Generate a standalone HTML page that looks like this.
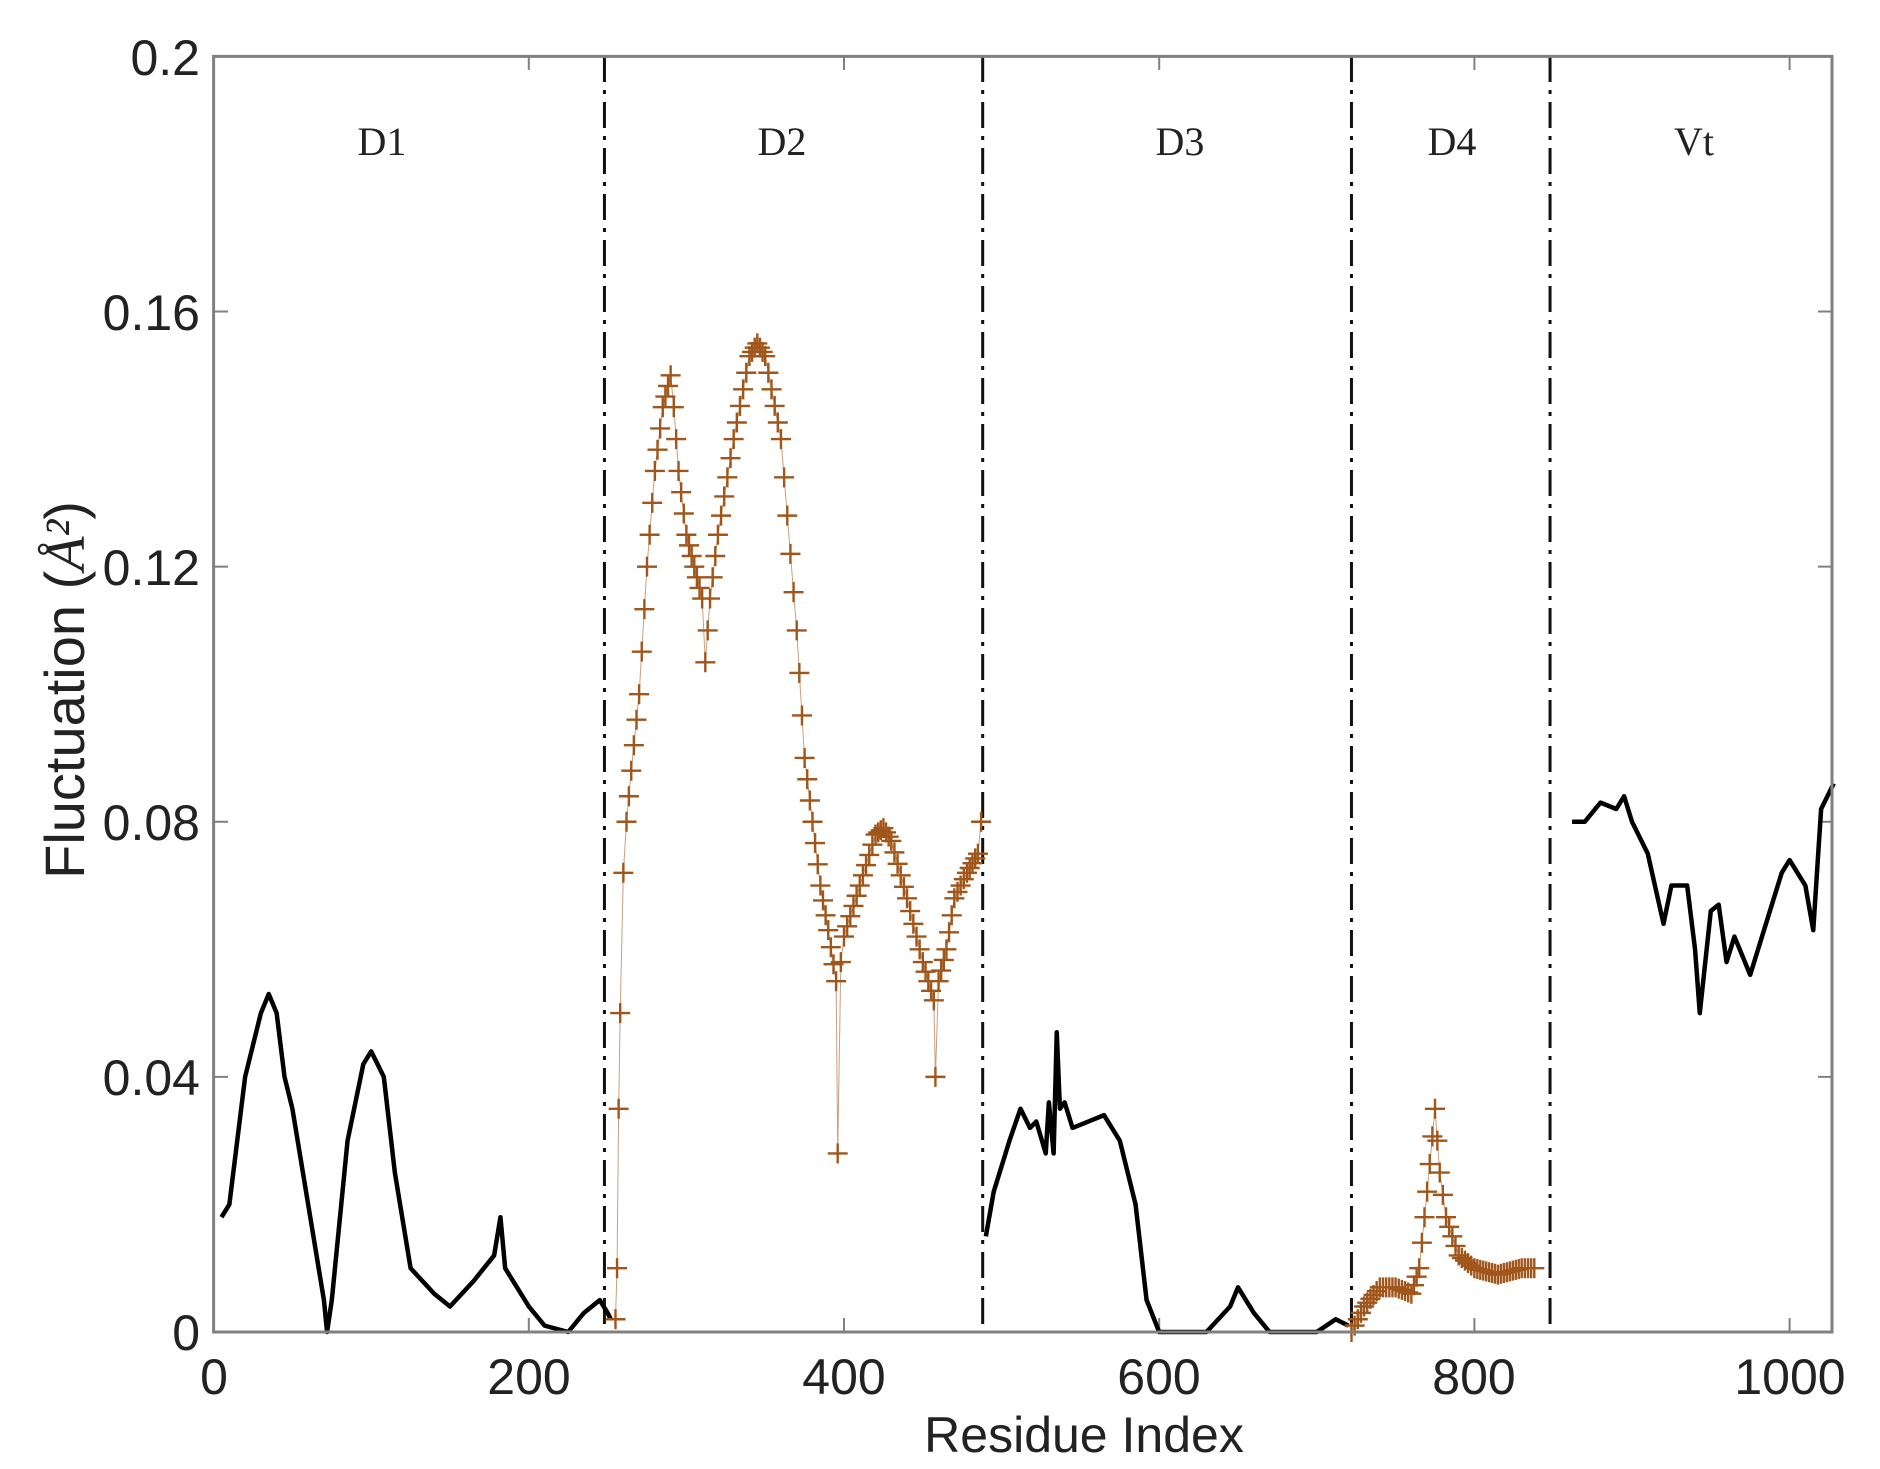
<!DOCTYPE html>
<html><head><meta charset="utf-8"><style>
html,body{margin:0;padding:0;background:#fff;}
svg{display:block;}
</style></head><body>
<svg id="s" width="1880" height="1469" viewBox="0 0 1880 1469" xmlns="http://www.w3.org/2000/svg">
<rect width="1880" height="1469" fill="#fff"/>
<g id="plot"></g>
<rect x="213.6" y="56.4" width="1618.4" height="1275.6" fill="none" stroke="#808080" stroke-width="3"/>
<g font-family="Liberation Serif, serif" font-size="40" fill="#222" text-anchor="middle">
<text x="382" y="155">D1</text><text x="782" y="155">D2</text><text x="1180" y="155">D3</text><text x="1452" y="155">D4</text><text x="1694" y="155">Vt</text>
</g>
<g font-family="Liberation Sans, sans-serif" font-size="50" fill="#222">
<g text-anchor="end">
<text x="200" y="1350">0</text><text x="200" y="1095">0.04</text><text x="200" y="840">0.08</text><text x="200" y="585">0.12</text><text x="200" y="330">0.16</text><text x="200" y="75">0.2</text>
</g>
<g text-anchor="middle">
<text x="214" y="1394">0</text><text x="529" y="1394">200</text><text x="844" y="1394">400</text><text x="1159" y="1394">600</text><text x="1474" y="1394">800</text><text x="1790" y="1394">1000</text>
<text x="1084" y="1452">Residue Index</text>
<text transform="translate(84,690) rotate(-90)" font-size="56">Fluctuation  (<tspan font-family="Liberation Serif, serif" font-style="italic">Å²</tspan>)</text>
</g>
</g>
</svg>
<script>
var X=function(x){return 213.6+x*1.576}, Y=function(y){return 1332-y*6378};
var g=document.getElementById('plot'), ns='http://www.w3.org/2000/svg';
function el(t,a){var e=document.createElementNS(ns,t);for(var k in a)e.setAttribute(k,a[k]);g.appendChild(e);return e;}
[0,200,400,600,800,1000].forEach(function(v){el('line',{x1:X(v),x2:X(v),y1:1332,y2:1318,stroke:'#808080','stroke-width':2});el('line',{x1:X(v),x2:X(v),y1:56,y2:70,stroke:'#808080','stroke-width':2});});
[0,0.04,0.08,0.12,0.16,0.2].forEach(function(v){el('line',{x1:213.6,x2:228,y1:Y(v),y2:Y(v),stroke:'#808080','stroke-width':2});el('line',{x1:1818,x2:1832,y1:Y(v),y2:Y(v),stroke:'#808080','stroke-width':2});});
[248,488,722,848].forEach(function(v){el('line',{x1:X(v),x2:X(v),y1:56,y2:1332,stroke:'#111','stroke-width':3,'stroke-dasharray':'26,8,4,8'});});
function line(d){el('polyline',{points:d.map(function(p){return X(p[0])+','+Y(p[1])}).join(' '),fill:'none',stroke:'#000','stroke-width':4.5,'stroke-linejoin':'round'});}
function crosses(d){
  el('polyline',{points:d.map(function(p){return X(p[0])+','+Y(p[1])}).join(' '),fill:'none',stroke:'#c8a080','stroke-width':1});
  var s='';
  for(var i=0;i<d.length-1;i++){var a=d[i],b=d[i+1],n=Math.max(1,Math.round((b[0]-a[0])/2));
    for(var j=0;j<n;j++){var t=j/n,x=X(a[0]+(b[0]-a[0])*t),y=Y(a[1]+(b[1]-a[1])*t);
      s+='M'+(x-10)+' '+y+'h20M'+x+' '+(y-10)+'v20';}}
  var l=d[d.length-1];s+='M'+(X(l[0])-10)+' '+Y(l[1])+'h20M'+X(l[0])+' '+(Y(l[1])-10)+'v20';
  el('path',{d:s,stroke:'#a0561a','stroke-width':2.4,fill:'none'});
}
line([[5,0.018],[10,0.02],[20,0.04],[30,0.05],[35,0.053],[40,0.05],[45,0.04],[50,0.035],[60,0.02],[70,0.005],[72,0],[75,0.005],[85,0.03],[95,0.042],[100,0.044],[108,0.04],[115,0.025],[125,0.01],[140,0.006],[150,0.004],[165,0.008],[178,0.012],[182,0.018],[185,0.01],[200,0.004],[210,0.001],[225,0],[235,0.003],[245,0.005],[250,0.003],[252,0.002]]);
crosses([[255,0.002],[256,0.01],[257,0.035],[258,0.05],[260,0.072],[262,0.08],[265,0.088],[270,0.1],[275,0.12],[280,0.135],[285,0.145],[290,0.15],[292,0.145],[295,0.135],[300,0.125],[305,0.12],[310,0.115],[312,0.105],[315,0.115],[320,0.125],[330,0.14],[340,0.153],[345,0.155],[350,0.153],[360,0.14],[370,0.11],[375,0.09],[380,0.08],[385,0.07],[390,0.063],[395,0.055],[396,0.028],[398,0.058],[400,0.062],[410,0.07],[420,0.078],[425,0.079],[430,0.077],[440,0.068],[450,0.058],[457,0.052],[458,0.04],[460,0.055],[465,0.06],[470,0.068],[478,0.072],[485,0.075],[487,0.08]]);
line([[490,0.015],[495,0.022],[505,0.03],[512,0.035],[518,0.032],[522,0.033],[528,0.028],[530,0.036],[533,0.028],[535,0.047],[537,0.035],[540,0.036],[545,0.032],[555,0.033],[565,0.034],[575,0.03],[585,0.02],[592,0.005],[600,0],[630,0],[645,0.004],[650,0.007],[660,0.003],[670,0],[700,0],[712,0.002],[720,0.001]]);
crosses([[722,0],[730,0.004],[740,0.007],[750,0.007],[760,0.006],[765,0.01],[770,0.022],[775,0.035],[778,0.025],[782,0.018],[790,0.012],[800,0.01],[815,0.009],[830,0.01],[838,0.01]]);
line([[862,0.08],[870,0.08],[880,0.083],[890,0.082],[895,0.084],[900,0.08],[910,0.075],[920,0.064],[925,0.07],[935,0.07],[940,0.06],[943,0.05],[950,0.066],[955,0.067],[960,0.058],[965,0.062],[975,0.056],[985,0.064],[995,0.072],[1000,0.074],[1010,0.07],[1015,0.063],[1020,0.082],[1028,0.086]]);
</script>
</body></html>
